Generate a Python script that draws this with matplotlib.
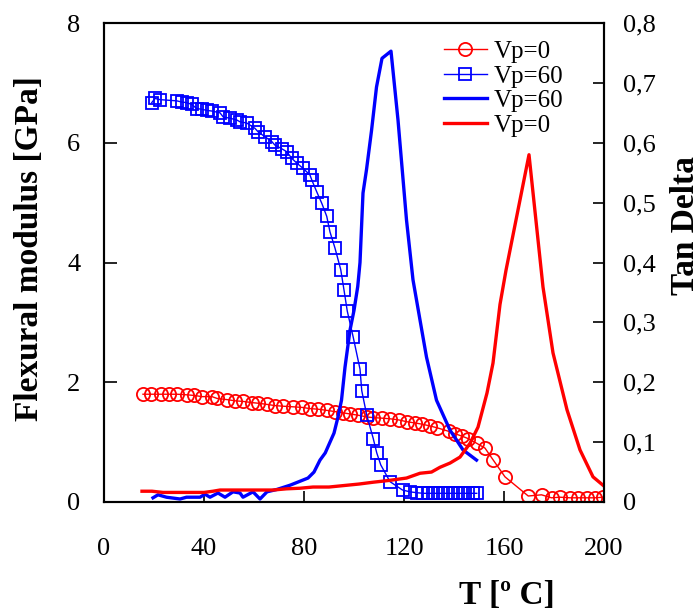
import matplotlib
matplotlib.use("Agg")
import matplotlib.pyplot as plt
from matplotlib.ticker import FixedLocator, FuncFormatter

# --- dados ---
# módulo de flexão [GPa], Vp=0 (círculos)
t_mod_vp0 = [15.6, 18.8, 22.8, 26, 29.2, 33.2, 36, 39.2, 43.2, 45.2, 49.2, 52.4, 55.6,
             59.2, 61.6, 65.2, 68.4, 71.6, 75.6, 79.2, 82.4, 85.6, 89.2, 92.4, 95.6, 98.4,
             101.6, 105.2, 107.6, 111.2, 114.4, 118, 121.2, 124.4, 127.2, 130.4, 133.2,
             137.9, 140.4, 143.2, 145.6, 149.1, 152.4, 155.7, 160.4, 169.7, 175, 179,
             182.4, 186.4, 189.7, 193, 196.4, 199.7]
mod_vp0 = [1.80, 1.80, 1.80, 1.80, 1.80, 1.79, 1.78, 1.76, 1.76, 1.73, 1.71, 1.69, 1.68,
           1.66, 1.65, 1.63, 1.61, 1.60, 1.59, 1.58, 1.56, 1.55, 1.53, 1.51, 1.49, 1.47,
           1.45, 1.42, 1.41, 1.40, 1.39, 1.37, 1.34, 1.32, 1.30, 1.27, 1.24,
           1.18, 1.14, 1.10, 1.06, 0.98, 0.90, 0.70, 0.42, 0.10, 0.12, 0.07,
           0.08, 0.07, 0.07, 0.07, 0.07, 0.08]

# módulo de flexão [GPa], Vp=60 (quadrados)
t_mod_vp60 = [19.1, 20.4, 22.4, 29.1, 31.1, 33.1, 35.1, 37.1, 39.1, 41.1, 43.1, 46.4,
              47.7, 50.4, 53.1, 54.4, 57.1, 60.4, 61.7, 64.4, 67.1, 68.4, 71.1, 73.1,
              75.1, 77.1, 79.7, 82.4, 83.1, 85.1, 87.1, 89.1, 90.4, 92.4, 94.7, 96,
              97.3, 99.7, 102.4, 103.1, 105.1, 107.7, 109.1, 110.7, 114.4, 119.4,
              122.4, 125.1, 127.7, 129.7, 131.7, 133.7, 135.7, 137.7, 139.7, 141.7,
              143.7, 145.7, 147.7, 149.1]
mod_vp60 = [6.67, 6.74, 6.72, 6.70, 6.68, 6.67, 6.64, 6.57, 6.56, 6.54, 6.53, 6.50,
            6.43, 6.41, 6.38, 6.35, 6.33, 6.24, 6.18, 6.10, 6.02, 5.96, 5.90, 5.85,
            5.74, 5.66, 5.57, 5.46, 5.38, 5.18, 4.99, 4.77, 4.51, 4.24, 3.88, 3.54,
            3.19, 2.75, 2.22, 1.86, 1.45, 1.06, 0.82, 0.62, 0.34, 0.20,
            0.17, 0.155, 0.145, 0.145, 0.145, 0.145, 0.145, 0.145, 0.145, 0.145,
            0.145, 0.145, 0.145, 0.145]

# tan delta, Vp=60 (linha azul)
t_tan_vp60 = [19.6, 21.6, 25, 30.4, 33, 38.4, 40.4, 42.4, 45.6, 48.4, 51.6, 54.4, 55.6,
              59.6, 62.4, 65.2, 69.2, 74.4, 78, 81.6, 84, 86.4, 88.5, 90.4, 92, 93.6,
              95, 96.4, 98.4, 100, 101.5, 102.4, 103.6, 105, 107, 109, 111.2, 114.8,
              117.6, 121, 123.6, 126.4, 129, 133, 138.4, 143.6, 149]
tan_vp60 = [0.007, 0.012, 0.008, 0.005, 0.008, 0.008, 0.013, 0.008, 0.015, 0.008, 0.017,
            0.015, 0.008, 0.017, 0.005, 0.017, 0.021, 0.028, 0.034, 0.040, 0.050, 0.070,
            0.082, 0.100, 0.115, 0.142, 0.170, 0.225, 0.287, 0.320, 0.360, 0.400, 0.516,
            0.555, 0.620, 0.693, 0.741, 0.753, 0.638, 0.471, 0.371, 0.304, 0.242, 0.170,
            0.120, 0.087, 0.070]

# tan delta, Vp=0 (linha vermelha)
t_tan_vp0 = [15.2, 19.2, 23.6, 30, 40, 43.6, 46.4, 55, 67.6, 73, 78.4, 83.6, 90, 97.2,
             102, 107.6, 114, 121, 126.4, 131, 134.4, 138.4, 142.4, 146.4, 149.6, 153.2,
             155.6, 158.4, 160.8, 170, 175.6, 179.6, 185.2, 190.4, 195.6, 199.6]
tan_vp0 = [0.018, 0.018, 0.016, 0.016, 0.016, 0.018, 0.020, 0.020, 0.020, 0.022, 0.023,
           0.025, 0.025, 0.028, 0.030, 0.033, 0.036, 0.040, 0.048, 0.050, 0.058, 0.065,
           0.075, 0.098, 0.125, 0.182, 0.232, 0.330, 0.387, 0.580, 0.359, 0.249, 0.154,
           0.087, 0.042, 0.028]

x_ticks = [0, 40, 80, 120, 160, 200]
y_ticks = [0, 2, 4, 6, 8]
y2_ticks = [0, 0.1, 0.2, 0.3, 0.4, 0.5, 0.6, 0.7, 0.8]

# =====================================================
# ESTILO
# =====================================================
plt.rcParams['font.family'] = ['Liberation Serif', 'DejaVu Serif']

fig = plt.figure(figsize=(7, 6.1), dpi=100)
ax = fig.add_axes([104 / 700, 1 - 502 / 610, 500 / 700, 479 / 610])
ax2 = ax.twinx()

l1, = ax.plot(t_mod_vp0, mod_vp0, color='red', lw=1, marker='o', ms=9.5,
              mfc='none', mec='red', mew=1.3, label='Vp=0')
l2, = ax.plot(t_mod_vp60, mod_vp60, color='blue', lw=1, marker='s', ms=8.5,
              mfc='none', mec='blue', mew=1.3, label='Vp=60')
l3, = ax2.plot(t_tan_vp60, tan_vp60, color='blue', lw=2.4, label='Vp=60')
l4, = ax2.plot(t_tan_vp0, tan_vp0, color='red', lw=2.4, label='Vp=0')

ax.set_xlim(0, 200)
ax.set_ylim(0, 8)
ax2.set_ylim(0, 0.8)

ax.xaxis.set_major_locator(FixedLocator(x_ticks))
ax.yaxis.set_major_locator(FixedLocator(y_ticks))
ax2.yaxis.set_major_locator(FixedLocator(y2_ticks))
ax2.yaxis.set_major_formatter(FuncFormatter(lambda v, p: ('%g' % round(v, 1)).replace('.', ',')))

for a in (ax, ax2):
    for s in a.spines.values():
        s.set_linewidth(1.5)
ax.tick_params(axis='x', direction='in', length=8, width=1.2, labelsize=19, pad=26)
ax.tick_params(axis='y', direction='in', length=9, width=1.2, labelsize=19, pad=17)
ax2.tick_params(axis='y', direction='in', length=8, width=1.2, labelsize=19, pad=14)

ax.set_ylabel('Flexural modulus [GPa]', fontsize=24, fontweight='bold',
              va='center', ha='center')
ax.yaxis.set_label_coords(-0.148, 0.53)
ax2.set_ylabel('Tan Delta', fontsize=24, fontweight='bold', va='center', ha='center')
ax2.yaxis.set_label_coords(1.164, 0.578)
ax.set_xlabel('T [º C]', fontsize=24, fontweight='bold', va='center', ha='center')
ax.xaxis.set_label_coords(0.806, -0.196)

ax2.legend([l1, l2, l3, l4], ['Vp=0', 'Vp=60', 'Vp=60', 'Vp=0'],
           loc='upper left', bbox_to_anchor=(0.68, 0.963), frameon=False,
           fontsize=18, handlelength=1.7, handletextpad=0.3, labelspacing=0.08,
           borderpad=0, borderaxespad=0)

fig.savefig('out.png', dpi=100)
